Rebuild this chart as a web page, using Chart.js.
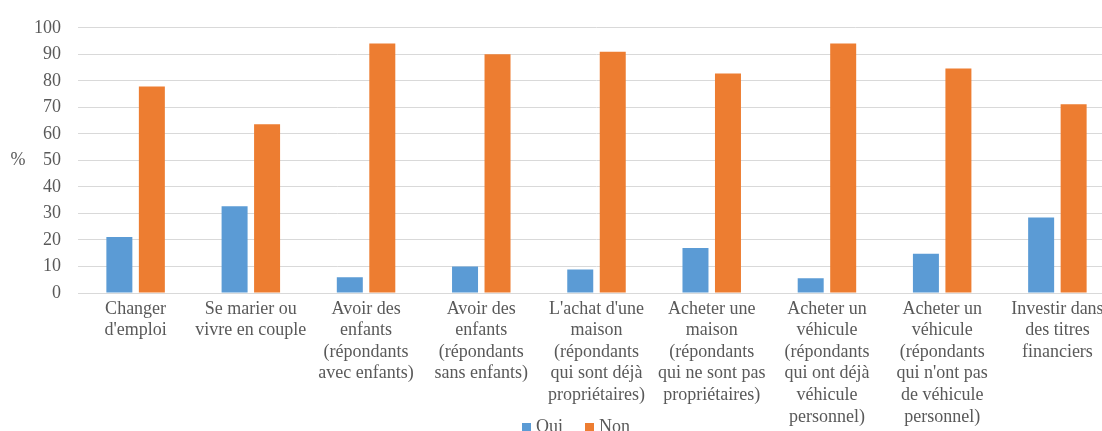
<!DOCTYPE html>
<html>
<head>
<meta charset="utf-8">
<script src="https://cdn.jsdelivr.net/npm/chart.js@4.4.1/dist/chart.umd.min.js"></script>
<style>
  html, body { margin: 0; padding: 0; background: #ffffff; overflow: hidden; width: 1102px; height: 431px; }
  #wrap { position: absolute; left: 0; top: 0; width: 1152px; height: 440px; }
</style>
</head>
<body>
<div id="wrap"><canvas id="c" width="1152" height="440"></canvas></div>
<script>
const categories = [
  ["Changer", "d'emploi"],
  ["Se marier ou", "vivre en couple"],
  ["Avoir des", "enfants", "(répondants", "avec enfants)"],
  ["Avoir des", "enfants", "(répondants", "sans enfants)"],
  ["L'achat d'une", "maison", "(répondants", "qui sont déjà", "propriétaires)"],
  ["Acheter une", "maison", "(répondants", "qui ne sont pas", "propriétaires)"],
  ["Acheter un", "véhicule", "(répondants", "qui ont déjà", "véhicule", "personnel)"],
  ["Acheter un", "véhicule", "(répondants", "qui n'ont pas", "de véhicule", "personnel)"],
  ["Investir dans", "des titres", "financiers"]
];
const ouiValues = [21.1, 32.7, 5.9, 10.0, 8.9, 17.0, 5.6, 14.8, 28.5];
const nonValues = [77.9, 63.6, 94.1, 90.0, 91.0, 82.8, 94.1, 84.7, 71.2];
const seriesNames = ["Oui", "Non"];
const seriesColors = ["#5B9BD5", "#ED7D31"];
const yTicks = [0, 10, 20, 30, 40, 50, 60, 70, 80, 90, 100];
const yTitle = "%";

const FONT = "'Liberation Serif', 'Times New Roman', serif";
const TEXT = "#595959";

// Upright "%" axis title and an Excel-style compact legend overlapping the label area
const extrasPlugin = {
  id: 'extras',
  afterDraw(chart) {
    const ctx = chart.ctx;
    const a = chart.chartArea;
    ctx.save();
    ctx.font = "18px " + FONT;
    ctx.fillStyle = TEXT;
    ctx.textAlign = "center";
    ctx.textBaseline = "middle";
    ctx.fillText(yTitle, 18, (a.top + a.bottom) / 2);

    // legend
    const box = 9, boxGap = 5, itemGap = 22;
    const items = chart.data.datasets.map(ds => ({ text: ds.label, color: ds.backgroundColor }));
    ctx.textAlign = "left";
    let total = 0;
    items.forEach((it, i) => {
      it.w = ctx.measureText(it.text).width;
      total += box + boxGap + it.w + (i < items.length - 1 ? itemGap : 0);
    });
    let x = 576 - total / 2;
    const yMid = a.bottom + 134;
    items.forEach(it => {
      ctx.fillStyle = it.color;
      ctx.fillRect(x, yMid - 4, box, box);
      x += box + boxGap;
      ctx.fillStyle = TEXT;
      ctx.fillText(it.text, x, yMid);
      x += it.w + itemGap;
    });
    ctx.restore();
  }
};

new Chart(document.getElementById('c'), {
  type: 'bar',
  data: {
    labels: categories,
    datasets: [
      { label: seriesNames[0], data: ouiValues, backgroundColor: seriesColors[0], categoryPercentage: 0.564, barPercentage: 0.8 },
      { label: seriesNames[1], data: nonValues, backgroundColor: seriesColors[1], categoryPercentage: 0.564, barPercentage: 0.8 }
    ]
  },
  options: {
    responsive: false,
    animation: false,
    layout: { padding: { top: 27, right: 37, left: 0, bottom: 0 } },
    plugins: {
      legend: { display: false },
      tooltip: { enabled: false }
    },
    scales: {
      x: {
        grid: { display: false, drawTicks: false },
        border: { display: true, color: '#d9d9d9', width: 1 },
        ticks: {
          color: TEXT,
          font: { family: FONT, size: 18, lineHeight: 1.2 },
          maxRotation: 0,
          minRotation: 0,
          autoSkip: false,
          padding: 5
        },
        afterFit(scale) { scale.height = 147; }
      },
      y: {
        min: 0,
        max: 100,
        afterBuildTicks(scale) { scale.ticks = yTicks.map(v => ({ value: v })); },
        grid: { color: '#d9d9d9', lineWidth: 1, drawTicks: false },
        border: { display: false },
        ticks: {
          color: TEXT,
          font: { family: FONT, size: 18 },
          padding: 17
        },
        afterFit(scale) { scale.width = 78; }
      }
    }
  },
  plugins: [extrasPlugin]
});
</script>
</body>
</html>
